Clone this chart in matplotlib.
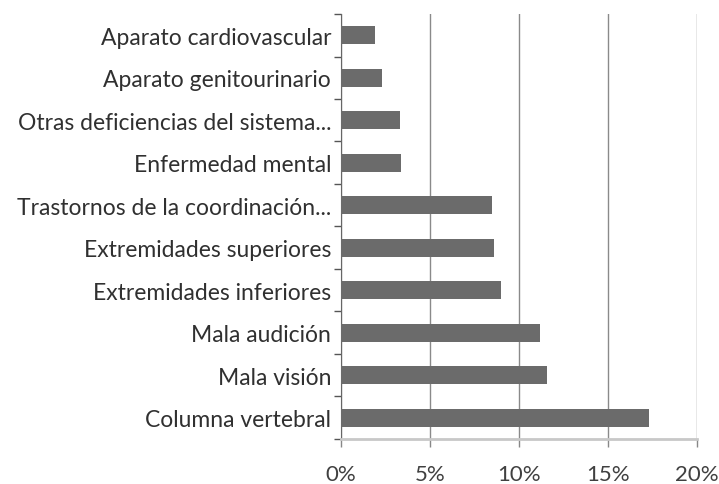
import numpy as np
import matplotlib.pyplot as plt

# categories listed bottom to top
categorias = ['Columna vertebral', 'Mala visión', 'Mala audición',
              'Extremidades inferiores', 'Extremidades superiores',
              'Trastornos de la coordinación...', 'Enfermedad mental',
              'Otras deficiencias del sistema...', 'Aparato genitourinario',
              'Aparato cardiovascular']
porcentajes = [17.3, 11.6, 11.2, 9.0, 8.6, 8.5, 3.4, 3.3, 2.3, 1.9]
ticks_x = [0, 5, 10, 15, 20]

plt.rcParams['font.family'] = ['Lato', 'DejaVu Sans']

fig = plt.figure(figsize=(7.19, 4.85), dpi=100)
ax = fig.add_axes([0.474, 0.093, 0.495, 0.876])

y = np.arange(len(categorias))
ax.barh(y, porcentajes, height=0.42, color='#6b6b6b', zorder=3)

ax.set_xlim(0, 20)
ax.set_ylim(-0.5, len(categorias) - 0.5)
ax.set_xticks(ticks_x)
ax.set_xticklabels([f'{t}%' for t in ticks_x], fontsize=16, color='#404040')
ax.set_yticks(y)
ax.set_yticklabels(categorias, fontsize=16.5, color='#303030')

# tick marks at category boundaries like Excel
ax.set_yticks(np.arange(len(categorias) + 1) - 0.5, minor=True)
ax.tick_params(axis='y', which='major', length=0, pad=7)
ax.tick_params(axis='y', which='minor', length=5, color='#555555', width=1)
ax.tick_params(axis='x', length=6, color='#888888', width=1, pad=12)

ax.grid(axis='x', color='#8a8a8a', linewidth=1, zorder=0)
for s in ['top', 'right']:
    ax.spines[s].set_visible(False)
ax.spines['left'].set_color('#666666')
ax.spines['bottom'].set_color('#c8c8c8')
ax.spines['bottom'].set_linewidth(2)

fig.savefig('out.png', dpi=100)
